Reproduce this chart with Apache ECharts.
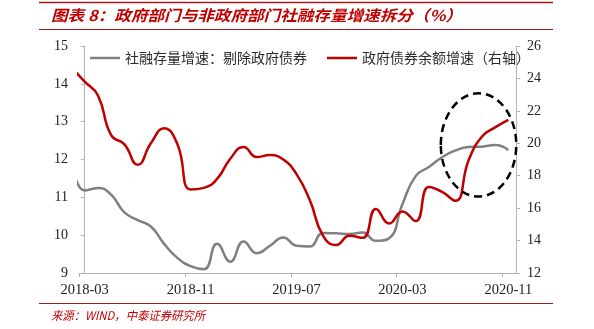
<!DOCTYPE html>
<html><head><meta charset="utf-8">
<script src="https://cdn.jsdelivr.net/npm/echarts@6/dist/echarts.min.js"></script>
<style>html,body{margin:0;padding:0;background:#fff}#c{width:594px;height:329px}</style>
</head><body><div id="c"></div>
<script>
// ---- data ----
const months = ['2018-02','2018-03','2018-04','2018-05','2018-06','2018-07','2018-08','2018-09','2018-10','2018-11','2018-12',
  '2019-01','2019-02','2019-03','2019-04','2019-05','2019-06','2019-07','2019-08','2019-09','2019-10','2019-11','2019-12',
  '2020-01','2020-02','2020-03','2020-04','2020-05','2020-06','2020-07','2020-08','2020-09','2020-10','2020-11'];
const grayValues = [12.0, 11.18, 11.25, 11.07, 10.6, 10.4, 10.23, 9.77, 9.4, 9.18, 9.1,
  9.77, 9.3, 9.83, 9.52, 9.72, 9.94, 9.72, 9.7, 10.06, 10.05, 10.03, 10.07,
  9.85, 9.92, 10.82, 11.56, 11.8, 12.06, 12.24, 12.33, 12.34, 12.38, 12.25];
const redValues = [24.7, 23.8, 22.95, 20.5, 19.93, 18.67, 20.0, 20.93, 19.95, 17.15, 17.25,
  17.8, 19.05, 19.77, 19.15, 19.27, 19.0, 18.1, 16.5, 14.3, 13.72, 14.3, 14.17,
  15.95, 15.05, 15.8, 15.2, 17.3, 17.0, 16.45, 18.95, 20.4, 20.98, 21.45];
const tickLabels = ['2018-03','2018-11','2019-07','2020-03','2020-11'];
const seriesNames = ['社融存量增速：剔除政府债券', '政府债券余额增速（右轴）'];
const titleText = '图表 8：政府部门与非政府部门社融存量增速拆分（%）';
const sourceText = '来源：WIND，中泰证券研究所';
// highlighted region (dashed ellipse), in data units: months index / left-axis value
const highlight = { x0: 26.9, x1: 32.6, yTop: 13.75, yBottom: 11.02 };

const base = months.indexOf('2018-03');
const xOf = m => months.indexOf(m) - base;
const grayData = months.map((m, k) => [xOf(m), grayValues[k]]);
const redData = months.map((m, k) => [xOf(m), redValues[k]]);

const RED = '#C00000', DARK = '#9E1B1B', AX = '#B4B4B4', TXT = '#222';
const numFont = 'Liberation Serif';
const cjk = 'Noto Sans CJK SC';
const lineIcon = 'path://M0,0H30V2.5H0Z';

function measure(text, font) {
  const c = document.createElement('canvas').getContext('2d');
  c.font = font; return c.measureText(text).width;
}
const titleFont = 'italic bold 15px "' + cjk + '"';
const srcFont = 'italic 12px "' + cjk + '"';
const titleScale = 411 / measure(titleText, titleFont);
const srcScale = 154 / measure(sourceText, srcFont);

const chart = echarts.init(document.getElementById('c'), null, { renderer: 'canvas' });
const option = {
  animation: false,
  backgroundColor: '#fff',
  grid: { left: 79, right: 78, top: 46, bottom: 56 },
  legend: {
    left: 85, top: 46, itemWidth: 30, itemHeight: 14, itemGap: 20,
    textStyle: { fontFamily: cjk, fontSize: 14, color: '#2a2a2a' },
    data: seriesNames.map(n => ({ name: n, icon: lineIcon }))
  },
  xAxis: {
    type: 'value', min: -0.43, max: 32.58,
    axisLine: { lineStyle: { color: AX, width: 1 } },
    axisTick: { show: true, length: 4, lineStyle: { color: AX },
      customValues: tickLabels.map(m => xOf(m) - 0.43) },
    axisLabel: { customValues: tickLabels.map(xOf), margin: 10,
      formatter: v => months[Math.round(v) + base],
      fontFamily: numFont, fontSize: 14.5, color: TXT, showMinLabel: true, showMaxLabel: true },
    splitLine: { show: false }
  },
  yAxis: [
    { type: 'value', min: 9, max: 15, interval: 1, position: 'left',
      axisLine: { show: true, lineStyle: { color: AX } },
      axisTick: { show: true, length: 4, lineStyle: { color: AX } },
      axisLabel: { fontFamily: numFont, fontSize: 14, color: TXT, margin: 11 },
      splitLine: { show: false } },
    { type: 'value', min: 12, max: 26, interval: 2, position: 'right',
      axisLine: { show: true, lineStyle: { color: AX } },
      axisTick: { show: true, length: 4, lineStyle: { color: AX } },
      axisLabel: { fontFamily: numFont, fontSize: 14, color: TXT, margin: 11 },
      splitLine: { show: false } }
  ],
  series: [
    { name: seriesNames[0], type: 'line', yAxisIndex: 0, data: grayData, smooth: 0.5,
      symbol: 'none', lineStyle: { color: '#808080', width: 2.5 }, itemStyle: { color: '#808080' } },
    { name: seriesNames[1], type: 'line', yAxisIndex: 1, data: redData, smooth: 0.5,
      symbol: 'none', lineStyle: { color: RED, width: 2.5 }, itemStyle: { color: RED } }
  ],
  graphic: [
    { type: 'line', shape: { x1: 39, y1: 2.5, x2: 553, y2: 2.5 }, style: { stroke: DARK, lineWidth: 1.6 } },
    { type: 'line', shape: { x1: 39, y1: 29.5, x2: 553, y2: 29.5 }, style: { stroke: DARK, lineWidth: 1.2 } },
    { type: 'line', shape: { x1: 39, y1: 303.5, x2: 553, y2: 303.5 }, style: { stroke: DARK, lineWidth: 1.2 } },
    { type: 'text', x: 51, y: 15.5, scaleX: titleScale,
      style: { text: titleText, font: titleFont, fill: RED, verticalAlign: 'middle', align: 'left' } },
    { type: 'text', x: 51, y: 315, scaleX: srcScale,
      style: { text: sourceText, font: srcFont, fill: RED, verticalAlign: 'middle', align: 'left' } }
  ]
};
chart.setOption(option);

const pTL = chart.convertToPixel({ xAxisIndex: 0, yAxisIndex: 0 }, [highlight.x0, highlight.yTop]);
const pBR = chart.convertToPixel({ xAxisIndex: 0, yAxisIndex: 0 }, [highlight.x1, highlight.yBottom]);
chart.setOption({
  graphic: option.graphic.concat([{
    type: 'ellipse', z: 100,
    shape: { cx: (pTL[0] + pBR[0]) / 2, cy: (pTL[1] + pBR[1]) / 2,
             rx: Math.abs(pBR[0] - pTL[0]) / 2, ry: Math.abs(pBR[1] - pTL[1]) / 2 },
    style: { fill: 'none', stroke: '#000', lineWidth: 2.5, lineDash: [8, 5] }
  }])
});
</script></body></html>
